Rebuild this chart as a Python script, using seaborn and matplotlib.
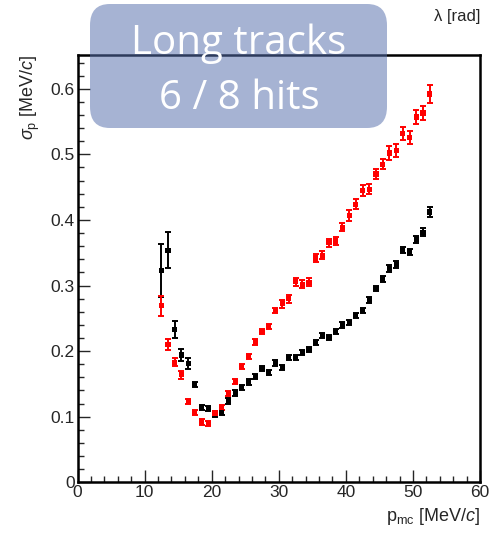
import numpy as np
import pandas as pd
import seaborn as sns
import matplotlib
matplotlib.use("Agg")
import matplotlib.pyplot as plt
from matplotlib.patches import FancyBboxPatch
from matplotlib.ticker import MultipleLocator

# ---- data ----
p_mc = [12.5, 13.5, 14.5, 15.5, 16.5, 17.5, 18.5, 19.5, 20.5, 21.5,
        22.5, 23.5, 24.5, 25.5, 26.5, 27.5, 28.5, 29.5, 30.5, 31.5,
        32.5, 33.5, 34.5, 35.5, 36.5, 37.5, 38.5, 39.5, 40.5, 41.5,
        42.5, 43.5, 44.5, 45.5, 46.5, 47.5, 48.5, 49.5, 50.5, 51.5, 52.5]

sigma_black = [0.323, 0.354, 0.233, 0.194, 0.181, 0.149, 0.114, 0.112, 0.104, 0.106,
               0.124, 0.136, 0.145, 0.153, 0.161, 0.174, 0.167, 0.182, 0.175, 0.190,
               0.190, 0.198, 0.203, 0.213, 0.224, 0.221, 0.230, 0.240, 0.244, 0.254,
               0.262, 0.278, 0.295, 0.310, 0.326, 0.332, 0.354, 0.351, 0.370, 0.381, 0.412]
err_black = [0.041, 0.028, 0.013, 0.009, 0.009, 0.004, 0.004, 0.004, 0.004, 0.004,
             0.004, 0.004, 0.004, 0.004, 0.004, 0.004, 0.004, 0.004, 0.004, 0.004,
             0.004, 0.004, 0.004, 0.004, 0.004, 0.004, 0.004, 0.004, 0.004, 0.004,
             0.004, 0.004, 0.004, 0.004, 0.005, 0.005, 0.005, 0.005, 0.005, 0.006, 0.007]

sigma_red = [0.269, 0.210, 0.183, 0.164, 0.123, 0.106, 0.092, 0.090, 0.105, 0.114,
             0.135, 0.154, 0.176, 0.192, 0.214, 0.230, 0.237, 0.262, 0.272, 0.280,
             0.306, 0.302, 0.305, 0.342, 0.346, 0.365, 0.368, 0.389, 0.407, 0.424,
             0.445, 0.447, 0.470, 0.485, 0.502, 0.506, 0.532, 0.526, 0.557, 0.563, 0.592]
err_red = [0.015, 0.008, 0.006, 0.006, 0.004, 0.004, 0.004, 0.004, 0.004, 0.004,
           0.004, 0.004, 0.004, 0.004, 0.004, 0.004, 0.004, 0.004, 0.006, 0.006,
           0.006, 0.006, 0.006, 0.006, 0.006, 0.006, 0.006, 0.006, 0.008, 0.008,
           0.008, 0.008, 0.008, 0.008, 0.010, 0.010, 0.010, 0.010, 0.011, 0.011, 0.013]

x_ticks = [0, 10, 20, 30, 40, 50, 60]
y_ticks = [0, 0.1, 0.2, 0.3, 0.4, 0.5, 0.6]

df = pd.DataFrame({
    "p": p_mc * 2,
    "sigma": sigma_black + sigma_red,
    "err": err_black + err_red,
    "set": ["black"] * len(p_mc) + ["red"] * len(p_mc),
})

sns.set_style("ticks")
plt.rcParams["font.family"] = ["Liberation Sans", "DejaVu Sans"]
plt.rcParams["mathtext.fontset"] = "custom"
plt.rcParams["mathtext.rm"] = "Liberation Sans"
plt.rcParams["mathtext.it"] = "Liberation Sans:italic"

fig = plt.figure(figsize=(4.95, 5.33), dpi=100)
ax = fig.add_axes([77.5 / 495, 1 - 482.3 / 533, (480 - 77.5) / 495, (482.3 - 55.3) / 533])
ax.set_facecolor("none")

palette = {"black": "black", "red": "#ff0000"}
for name in ["black", "red"]:
    sub = df[df["set"] == name]
    ax.errorbar(sub["p"], sub["sigma"], yerr=sub["err"], fmt="none",
                ecolor=palette[name], elinewidth=1.4, capsize=2.0, capthick=1.4,
                zorder=2 if name == "black" else 4)
sns.scatterplot(data=df, x="p", y="sigma", hue="set", palette=palette,
                marker="s", s=14, linewidth=0, legend=False, ax=ax, zorder=5)

ax.set_xlim(0, 60)
ax.set_ylim(0, 0.651)
ax.set_xticks(x_ticks)
ax.set_yticks(y_ticks)
ax.xaxis.set_minor_locator(MultipleLocator(2))
ax.yaxis.set_minor_locator(MultipleLocator(0.02))
ax.set_xticklabels([str(t) for t in x_ticks])
ax.set_yticklabels(["0"] + [f"{t:.1f}" for t in y_ticks[1:]])

ax.tick_params(axis="both", which="major", direction="in", length=8.5, width=1.0,
               labelsize=12.5, pad=2)
ax.tick_params(axis="both", which="minor", direction="in", length=4.3, width=1.0)
ax.tick_params(top=False, right=False, which="both")
for sp in ax.spines.values():
    sp.set_visible(True)
    sp.set_linewidth(1.8)
    sp.set_color("black")

ax.set_xlabel(r"p$_{\mathregular{mc}}$ [MeV/$c$]", fontsize=13, loc="right", labelpad=4)
ax.set_ylabel(r"$\sigma_{\mathregular{p}}$ [MeV/$c$]", fontsize=13, loc="top", labelpad=6)

fig.text(480 / 495, 1 - 17 / 533, "λ [rad]", ha="right", va="center", fontsize=12)

# semi-transparent label box over the top of the frame
box = FancyBboxPatch((90 / 495, 1 - 128 / 533), (387 - 90) / 495, 124 / 533,
                     boxstyle="round,pad=0,rounding_size=0.04",
                     transform=fig.transFigure, facecolor=(0.34, 0.44, 0.68),
                     alpha=0.53, edgecolor="none", zorder=10)
fig.patches.append(box)
fig.text(239 / 495, 1 - 44 / 533, "Long tracks", ha="center", va="center",
         fontsize=29, color="white", family="Open Sans", zorder=11)
fig.text(239 / 495, 1 - 99 / 533, "6 / 8 hits", ha="center", va="center",
         fontsize=29, color="white", family="Open Sans", zorder=11)

fig.savefig("out.png", dpi=100)
